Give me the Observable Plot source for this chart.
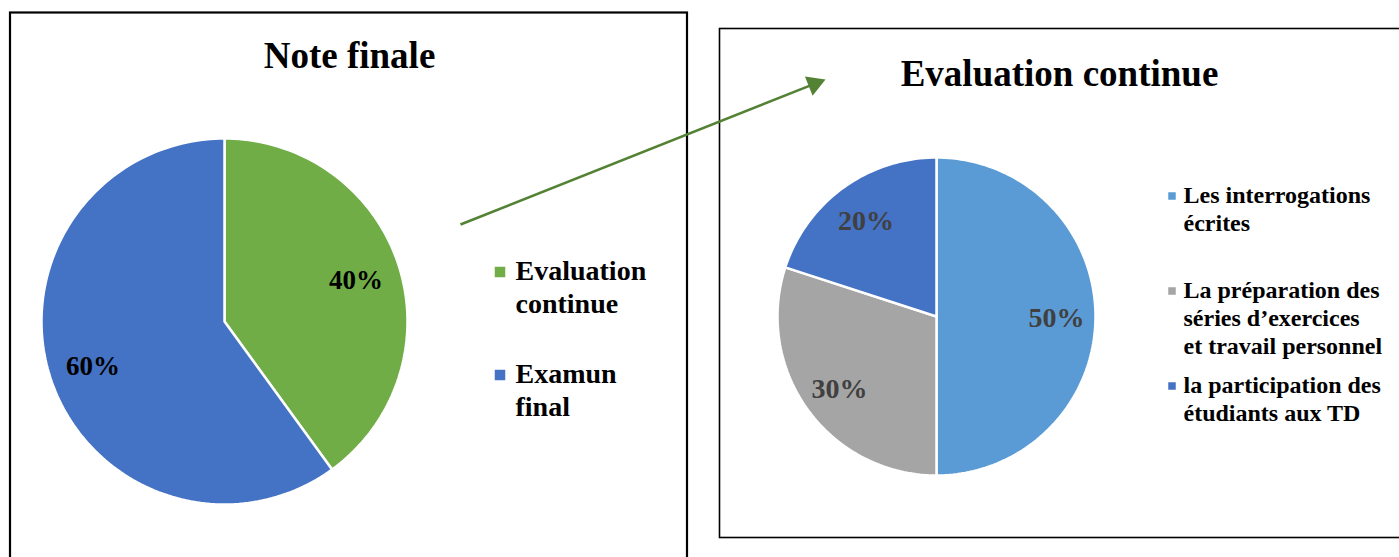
<!DOCTYPE html>
<html><head><meta charset="utf-8">
<script src="https://cdn.jsdelivr.net/npm/d3@7"></script>
<script src="https://cdn.jsdelivr.net/npm/@observablehq/plot@0.6"></script>
<style>body{margin:0;background:#fff}</style>
</head><body><div id="chart"></div>
<script>
// ---- data ----
const titles = ["Note finale", "Evaluation continue"];
const finalCategories = ["Evaluation continue", "Examun final"];
const finalValues = [40, 60];
const finalLegendLabels = ["Evaluation\ncontinue", "Examun\nfinal"];
const contCategories = ["Les interrogations écrites", "La préparation des séries d’exercices et travail personnel", "la participation des étudiants aux TD"];
const contValues = [50, 30, 20];
const contLegendLabels = ["Les interrogations\nécrites", "La préparation des\nséries d’exercices\net travail personnel", "la participation des\nétudiants aux TD"];
const categoryColors = ["#70AD47", "#4472C4", "#5B9BD5", "#A5A5A5", "#4472C4"];

// ---- layout ----
const W = 1399, H = 557;
const FONT = "'Liberation Serif', 'Times New Roman', serif";
const boxes = [
  {x1: 10, y1: 12.5, x2: 687, y2: 575, w: 2.2},
  {x1: 719.5, y1: 28.5, x2: 1420, y2: 537.5, w: 1.6}
];
const pieLayout = [
  {cats: finalCategories, values: finalValues, cx: 224, cy: 321, r: 183, labelColor: "#000", labelSize: 27,
   title: titles[0], tx: 349, tBase: 67, tSize: 37, sqBase: [282, 385],
   legend: finalLegendLabels, sqX: 499.5, sqSide: 10.5, lx: 515, lBase: [276, 379], lSize: 28, lLine: 33},
  {cats: contCategories, values: contValues, cx: 936, cy: 316, r: 159, labelColor: "#404040", labelSize: 28,
   title: titles[1], tx: 1059, tBase: 85, tSize: 37, sqBase: [203, 298, 393],
   legend: contLegendLabels, sqX: 1171.5, sqSide: 7.5, lx: 1183, lBase: [199.5, 294.5, 389.5], lSize: 24, lLine: 28}
];
const arrow = {x1: 460, y1: 224, x2: 825, y2: 79, color: "#548235", head: 18};

// ---- derived geometry ----
const wedgePoints = [], labels = [], legendSquares = [], legendTexts = [], titleRows = [];
pieLayout.forEach((p, pi) => {
  const rows = p.cats.map((c, i) => ({cat: c, value: p.values[i]}));
  const arcs = d3.pie().sort(null).value(d => d.value)(rows);
  arcs.forEach((a, i) => {
    const id = pi + "-" + i;
    const n = Math.max(2, Math.ceil((a.endAngle - a.startAngle) / (2 * Math.PI) * 240));
    wedgePoints.push({id, cat: a.data.cat, x: p.cx, y: p.cy});
    for (let k = 0; k <= n; k++) {
      const t = a.startAngle + (a.endAngle - a.startAngle) * k / n;
      wedgePoints.push({id, cat: a.data.cat, x: p.cx + p.r * Math.sin(t), y: p.cy - p.r * Math.cos(t)});
    }
    wedgePoints.push({id, cat: a.data.cat, x: p.cx, y: p.cy});
    const m = (a.startAngle + a.endAngle) / 2, rr = 0.755 * p.r;
    labels.push({x: p.cx + rr * Math.sin(m), y: p.cy - rr * Math.cos(m) + 2, text: a.data.value + "%",
                 color: p.labelColor, size: p.labelSize});
    legendSquares.push({x: p.sqX, y: p.sqBase[i] - p.sqSide, cat: a.data.cat, r: p.sqSide / Math.sqrt(Math.PI)});
    legendTexts.push({x: p.lx, y: p.lBase[i] - 0.71 * p.lSize, text: p.legend[i], size: p.lSize, line: p.lLine / p.lSize});
  });
  titleRows.push({x: p.tx, y: p.tBase - 0.71 * p.tSize, text: p.title, size: p.tSize});
});

const dx = arrow.x2 - arrow.x1, dy = arrow.y2 - arrow.y1, len = Math.hypot(dx, dy);
const ux = dx / len, uy = dy / len;
const hy = arrow.head / 3;
const headSize = 3 * Math.sqrt(3) * hy * hy;
const arrowLine = [{x1: arrow.x1, y1: arrow.y1, x2: arrow.x2 - ux * (arrow.head - 2), y2: arrow.y2 - uy * (arrow.head - 2)}];
const arrowHead = [{x: arrow.x2 - ux * 2 * hy, y: arrow.y2 - uy * 2 * hy,
                    rot: Math.atan2(dy, dx) * 180 / Math.PI + 90}];

const allCats = [...finalCategories, ...contCategories];

const marks = [
  ...boxes.map(b => Plot.rect([b], {x1: "x1", x2: "x2", y1: "y1", y2: "y2", fill: "none", stroke: "#000", strokeWidth: b.w})),
  Plot.line(wedgePoints, {x: "x", y: "y", z: "id", fill: "cat", stroke: "#fff", strokeWidth: 2.5, strokeLinejoin: "miter"}),
  ...labels.map(l => Plot.text([l], {x: "x", y: "y", text: "text", fill: l.color, fontSize: l.size,
    fontWeight: "bold", fontFamily: FONT, lineAnchor: "middle", textAnchor: "middle"})),
  ...titleRows.map(t => Plot.text([t], {x: "x", y: "y", text: "text", fill: "#000", fontSize: t.size,
    fontWeight: "bold", fontFamily: FONT, lineAnchor: "top", textAnchor: "middle"})),
  ...legendSquares.map(s => Plot.dot([s], {x: "x", y: "y", fill: "cat", symbol: "square", r: s.r})),
  ...legendTexts.map(t => Plot.text([t], {x: "x", y: "y", text: "text", fill: "#000", fontSize: t.size,
    fontWeight: "bold", fontFamily: FONT, lineAnchor: "top", textAnchor: "start", lineHeight: t.line})),
  Plot.link(arrowLine, {x1: "x1", y1: "y1", x2: "x2", y2: "y2", stroke: arrow.color, strokeWidth: 2.6}),
  Plot.dot(arrowHead, {x: "x", y: "y", symbol: "triangle", r: Math.sqrt(headSize / Math.PI), fill: arrow.color, rotate: "rot"})
];

const chart = Plot.plot({
  width: W, height: H, margin: 0,
  x: {type: "linear", domain: [0, W], range: [0, W], axis: null},
  y: {type: "linear", domain: [0, H], range: [0, H], axis: null},
  color: {domain: allCats, range: categoryColors},
  style: {background: "#fff", overflow: "hidden"},
  marks
});
document.getElementById("chart").appendChild(chart);
</script>
</body></html>
